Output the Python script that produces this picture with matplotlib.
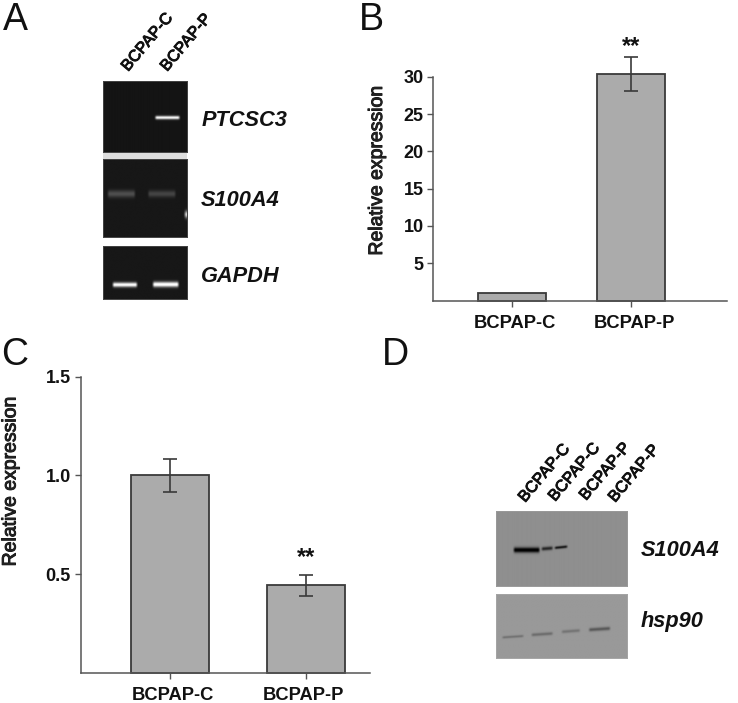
import numpy as np
import matplotlib
matplotlib.use("Agg")
import matplotlib.pyplot as plt
import matplotlib.patheffects as pe

plt.rcParams['font.family'] = ['Liberation Sans', 'DejaVu Sans']
W, H = 738, 703
DPI = 100

# --- data ---
categories = ['BCPAP-C', 'BCPAP-P']
b_values = [1.0, 30.3]
b_err_low = [None, 28.1]
b_err_high = [None, 32.6]
b_ticks = [5, 10, 15, 20, 25, 30]
c_values = [1.0, 0.445]
c_err_low = [0.917, 0.39]
c_err_high = [1.083, 0.497]
c_ticks = [0.5, 1.0, 1.5]

BAR = '#ababab'
EDGE = '#3a3a3a'
AXC = '#555555'
THICK = [pe.withStroke(linewidth=0.7, foreground='#111111')]

fig = plt.figure(figsize=(W / DPI, H / DPI), dpi=DPI, facecolor='white')

def px_axes(x0, x1, y0, y1, **kw):
    """Axes from image pixel box (y measured from the top)."""
    return fig.add_axes([x0 / W, 1 - y1 / H, (x1 - x0) / W, (y1 - y0) / H], **kw)

def ftext(x, y, s, **kw):
    kw.setdefault('ha', 'left')
    kw.setdefault('va', 'center')
    return fig.text(x / W, 1 - y / H, s, **kw)

def bar_panel(box, xlim, width, ylim, values, lows, highs, ticks, fmt, stars, label_dx):
    ax = px_axes(*box)
    x = np.arange(len(values))
    ax.bar(x, values, width=width, color=BAR, edgecolor=EDGE, linewidth=1.3, clip_on=False, zorder=2)
    for xi, lo, hi in zip(x, lows, highs):
        if lo is None:
            continue
        ax.errorbar(xi, (lo + hi) / 2, yerr=(hi - lo) / 2, color=EDGE, capsize=5, capthick=1.2,
                    elinewidth=1.2, clip_on=False, zorder=3)
    ax.set_xlim(*xlim)
    ax.set_ylim(*ylim)
    ax.set_xticks(x)
    ax.set_xticklabels([])
    for xi, cat, dx in zip(x, categories, label_dx):
        ax.annotate(cat, xy=(xi, 0), xycoords=('data', 'axes fraction'),
                    xytext=(dx * 72 / DPI, -22.5 * 72 / DPI), textcoords='offset points',
                    ha='center', va='center', fontsize=13.2, fontweight='bold', color='#111111')
    ax.set_yticks(ticks)
    ax.set_yticklabels([fmt.format(t) for t in ticks], fontsize=13, fontweight='bold', color='#111111')
    ax.tick_params(axis='x', length=4, width=1, color=AXC)
    ax.tick_params(axis='y', length=4, width=1, color=AXC, pad=3)
    for s in ('top', 'right'):
        ax.spines[s].set_visible(False)
    for s in ('left', 'bottom'):
        ax.spines[s].set_color(AXC)
        ax.spines[s].set_linewidth(1.1)
    ax.patch.set_alpha(0)
    ax.set_ylabel('Relative expression', fontsize=14, color='#222222', path_effects=THICK)
    xi, yi = stars
    ax.text(xi, yi, '**', fontsize=17, fontweight='bold', ha='center', va='center', color='#111111')
    return ax

ax_b = bar_panel((433.3, 727, 76.7, 300.6), (-0.656, 1.8), 0.57, (0, 30),
                 b_values, b_err_low, b_err_high, b_ticks, '{:d}', (1, 34.1), (3.5, 3.5))
ax_b.yaxis.set_label_coords((386 - 433.3) / (727 - 433.3), 0.583)
ax_c = bar_panel((80.7, 370, 376.7, 672.7), (-0.657, 1.47), 0.575, (0, 1.5),
                 c_values, c_err_low, c_err_high, c_ticks, '{:.1f}', (1, 0.582), (3, -3))
ax_c.yaxis.set_label_coords((19.5 - 80.7) / (370 - 80.7), 0.648)

# --- gel / blot panels (bands given in panel pixels) ---
def blot(box, bg, bands, sign, edge_color):
    x0, x1, y0, y1 = box
    w, h = int(round(x1 - x0)) * 2, int(round(y1 - y0)) * 2
    xx, yy = np.meshgrid((np.arange(w) + .5) / 2 + x0, (np.arange(h) + .5) / 2 + y0)
    img = np.full((h, w), float(bg))
    for bx0, bx1, by0, by1, thick, amp in bands:
        t = np.clip((xx - bx0) / (bx1 - bx0), 0, 1)
        yc = by0 + (by1 - by0) * t
        edge = np.clip((xx - bx0) / 2.5, 0, 1) * np.clip((bx1 - xx) / 2.5, 0, 1)
        img += sign * amp * edge * np.exp(-((yy - yc) / thick) ** 2)
    ax = px_axes(x0, x1, y0, y1)
    ax.imshow(np.clip(img, 0, 1), cmap='gray', vmin=0, vmax=1, aspect='auto', interpolation='bilinear')
    ax.set_xticks([]); ax.set_yticks([])
    for s in ax.spines.values():
        s.set_color(edge_color); s.set_linewidth(0.7)

# grey separator between the first two gels
sep = px_axes(103.3, 187.3, 152.3, 159.3)
sep.set_facecolor('#dedede'); sep.set_xticks([]); sep.set_yticks([])
for s in sep.spines.values():
    s.set_visible(False)

blot((103.3, 187.3, 80.7, 152.3), 0.08, [(154, 180, 118.3, 118.3, 1.7, 0.92)], 1, '#444444')
blot((103.3, 187.3, 159.3, 236.7), 0.09,
     [(107, 136, 193.7, 193.7, 3.5, 0.22), (147, 176, 193.7, 193.7, 3.3, 0.18), (183, 192, 214, 214, 3.5, 0.75)], 1, '#444444')
blot((103.3, 187.3, 246, 299.3), 0.09,
     [(112, 138, 285, 285, 2.3, 0.92), (151.7, 179, 284.7, 284.7, 2.6, 0.95)], 1, '#444444')
blot((495.7, 627, 511, 586), 0.56,
     [(512.3, 540, 550, 550, 2.6, 0.6), (540, 553, 549, 548, 1.8, 0.42), (553, 567.5, 548, 546.5, 1.3, 0.5)], -1, '#999999')
blot((495.7, 627, 593.7, 658), 0.60,
     [(501, 524, 637.5, 636, 1.2, 0.16), (530, 553, 635, 633.5, 1.5, 0.18),
      (560, 580, 632, 630.5, 1.5, 0.15), (587, 610, 630, 628.5, 1.7, 0.26)], -1, '#a5a5a5')

# --- text ---
for x, y, s in [(3, 30, 'A'), (359, 30, 'B'), (1, 365, 'C'), (382, 365, 'D')]:
    ftext(x, y, s, fontsize=27, va='baseline', color='#111111')
for x, y, s in [(201.5, 120, 'PTCSC3'), (201, 200, 'S100A4'), (201, 276, 'GAPDH'),
                (641, 550, 'S100A4'), (641, 622, 'hsp90')]:
    ftext(x, y, s, fontsize=15.7, fontweight='bold', style='italic', color='#111111')
for x, y, s in [(128, 72, 'BCPAP-C'), (167, 72, 'BCPAP-P'),
                (525, 503, 'BCPAP-C'), (555, 502, 'BCPAP-C'), (586, 501, 'BCPAP-P'), (615, 503, 'BCPAP-P')]:
    ftext(x, y, s, fontsize=11.6, rotation=50, rotation_mode='anchor',
          va='baseline', color='#111111', path_effects=THICK)

fig.savefig('out.png', dpi=DPI, facecolor='white')
